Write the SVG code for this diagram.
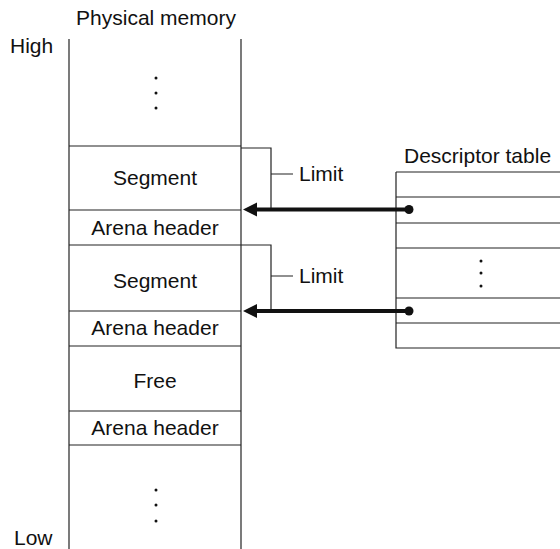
<svg xmlns="http://www.w3.org/2000/svg" width="560" height="549" viewBox="0 0 560 549">
<style>
  text { font-family: "Liberation Sans", Arial, sans-serif; font-size: 21px; fill: #111; }
  .c { text-anchor: middle; }
  .ln { stroke: #222; stroke-width: 1.2; fill: none; }
  .arr { stroke: #111; stroke-width: 4; fill: none; }
  .dot { fill: #111; }
</style>
<defs>
  <marker id="ah" markerUnits="userSpaceOnUse" markerWidth="16" markerHeight="16" refX="8" refY="8" orient="auto" viewBox="0 0 16 16">
    <path d="M1,1 L15,8 L1,15 Z" fill="#111"/>
  </marker>
</defs>
<rect width="560" height="549" fill="#fff"/>
<g id="labels">
  <text class="c" x="156" y="25">Physical memory</text>
  <text x="10" y="53">High</text>
  <text x="14" y="545">Low</text>
  <text x="404" y="163">Descriptor table</text>
</g>
<g id="memory">
  <line class="ln" x1="69" y1="39" x2="69" y2="549"/>
  <line class="ln" x1="241" y1="39" x2="241" y2="549"/>
  <g class="dot">
    <circle cx="156" cy="78" r="1.5"/>
    <circle cx="156" cy="93" r="1.5"/>
    <circle cx="156" cy="108" r="1.5"/>
    <circle cx="156" cy="490" r="1.5"/>
    <circle cx="156" cy="505" r="1.5"/>
    <circle cx="156" cy="521" r="1.5"/>
  </g>
</g>
<g id="segment1">
  <line class="ln" x1="69" y1="146" x2="241" y2="146"/>
  <text class="c" x="155" y="185">Segment</text>
</g>
<g id="header1">
  <line class="ln" x1="69" y1="210" x2="241" y2="210"/>
  <text class="c" x="155" y="235">Arena header</text>
</g>
<g id="segment2">
  <line class="ln" x1="69" y1="245" x2="241" y2="245"/>
  <text class="c" x="155" y="288">Segment</text>
</g>
<g id="header2">
  <line class="ln" x1="69" y1="311" x2="241" y2="311"/>
  <text class="c" x="155" y="335">Arena header</text>
</g>
<g id="free">
  <line class="ln" x1="69" y1="346" x2="241" y2="346"/>
  <text class="c" x="155" y="388">Free</text>
</g>
<g id="header3">
  <line class="ln" x1="69" y1="411" x2="241" y2="411"/>
  <line class="ln" x1="69" y1="445" x2="241" y2="445"/>
  <text class="c" x="155" y="435">Arena header</text>
</g>
<g id="descriptor-table">
  <path class="ln" d="M396,172 H560 M396,172 V348 H560 M396,197 H560 M396,223 H560 M396,248 H560 M396,298 H560 M396,323 H560"/>
  <g class="dot">
    <circle cx="481" cy="261" r="1.5"/>
    <circle cx="481" cy="273" r="1.5"/>
    <circle cx="481" cy="286" r="1.5"/>
  </g>
</g>
<g id="limit1">
  <path class="ln" d="M241,148 H271 V209 M271,174 H293"/>
  <text x="299" y="181">Limit</text>
</g>
<g id="limit2">
  <path class="ln" d="M241,245 H271 V311 M271,276 H293"/>
  <text x="299" y="283">Limit</text>
</g>
<g id="connectors">
  <line class="arr" x1="409" y1="209.5" x2="250" y2="209.5" marker-end="url(#ah)"/>
  <circle class="dot" cx="409" cy="209.5" r="4.5"/>
  <line class="arr" x1="409" y1="311" x2="250" y2="311" marker-end="url(#ah)"/>
  <circle class="dot" cx="409" cy="311" r="4.5"/>
</g>
</svg>
